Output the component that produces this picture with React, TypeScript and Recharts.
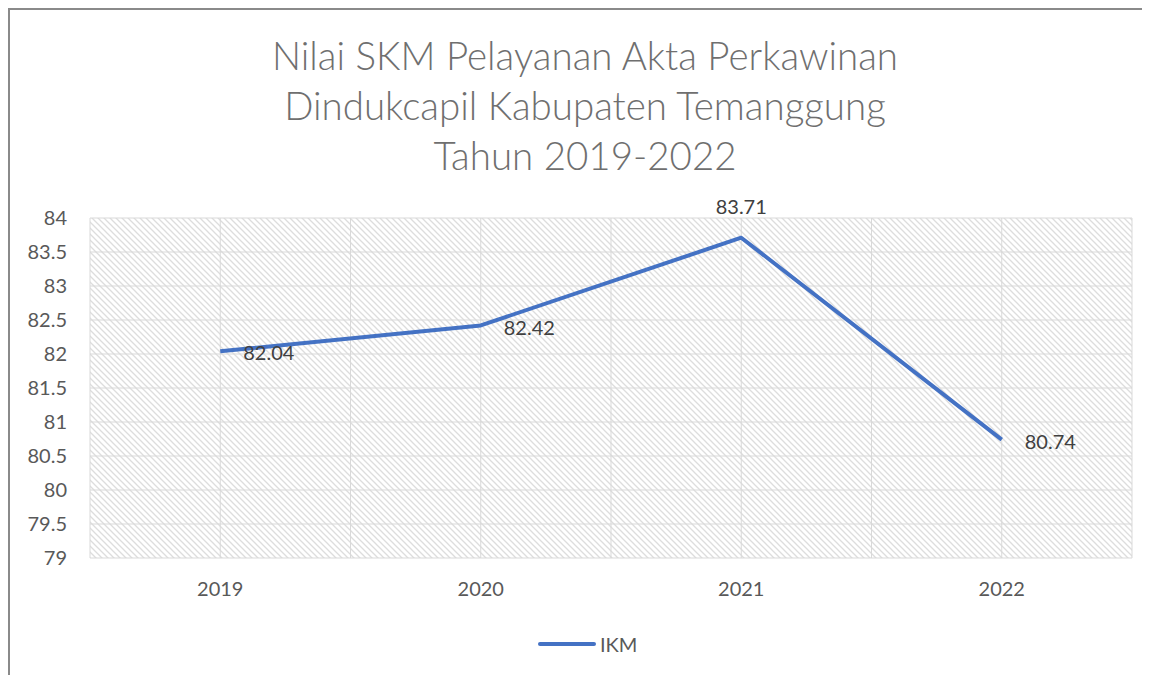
import React from 'react';
import { LineChart, Line, XAxis, YAxis, CartesianGrid, Legend, LabelList } from 'recharts';

const categories = ['2019', '2020', '2021', '2022'];
const ikmValues = [82.04, 82.42, 83.71, 80.74];
const yTicks = [79, 79.5, 80, 80.5, 81, 81.5, 82, 82.5, 83, 83.5, 84];
const seriesName = 'IKM';
const titleLines = [
  'Nilai SKM Pelayanan Akta Perkawinan',
  'Dindukcapil Kabupaten Temanggung',
  'Tahun 2019-2022',
];
const labelPlacement = ['right', 'right', 'top', 'right'];

const data = categories.map((year, i) => ({ year, IKM: ikmValues[i] }));

const FONT = 'Lato, "Open Sans", sans-serif';
const BLUE = '#4472C4';

const renderLabel = (props: any) => {
  const { x, y, value, index } = props;
  const place = labelPlacement[index];
  if (place === 'top') {
    return (
      <text x={x} y={y - 24} textAnchor="middle" fill="#404040" fontSize={20} fontFamily={FONT}>
        {value}
      </text>
    );
  }
  return (
    <text x={x + 23} y={y + 2} dy="0.355em" textAnchor="start" fill="#404040" fontSize={20} fontFamily={FONT}>
      {value}
    </text>
  );
};

const renderLegend = (props: any) => {
  const { payload } = props;
  return (
    <div style={{ display: 'flex', alignItems: 'center', fontFamily: FONT }}>
      {(payload || []).map((p: any) => (
        <div key={p.value} style={{ display: 'flex', alignItems: 'center' }}>
          <svg width={58} height={10} style={{ display: 'block' }}>
            <line x1={2} y1={5} x2={56} y2={5} stroke={p.color} strokeWidth={4} strokeLinecap="round" />
          </svg>
          <span style={{ fontSize: 20, color: '#595959', marginLeft: 4 }}>{p.value}</span>
        </div>
      ))}
    </div>
  );
};

export default function App() {
  return (
    <div
      style={{
        position: 'relative',
        width: 1142,
        height: 667,
        borderTop: '2px solid #8a8a8a',
        borderLeft: '2px solid #8a8a8a',
        boxSizing: 'border-box',
        background: '#fff',
      }}
    >
      <div
        style={{
          position: 'absolute',
          left: 0,
          top: 20,
          width: 1150,
          textAlign: 'center',
          fontFamily: FONT,
          fontWeight: 300,
          fontSize: 38.5,
          lineHeight: '50px',
          color: '#6f6f6f',
        }}
      >
        {titleLines.map((t) => (
          <div key={t}>{t}</div>
        ))}
      </div>
      <div style={{ position: 'absolute', left: 0, top: 0 }}>
        <LineChart width={1140} height={665} data={data} margin={{ top: 208, right: 18, bottom: 77, left: 0 }}>
          <defs>
            <pattern id="hatch" patternUnits="userSpaceOnUse" width={6} height={6}>
              <rect width={6} height={6} fill="#ffffff" />
              <path d="M-1,-1 L7,7 M-1,5 L1,7 M5,-1 L7,1" stroke="#dddddd" strokeWidth={1.3} />
            </pattern>
          </defs>
          <CartesianGrid
            stroke="#d9d9d9"
            strokeWidth={1}
            fill="url(#hatch)"
            fillOpacity={1}
            verticalCoordinatesGenerator={({ offset }: any) =>
              Array.from({ length: categories.length * 2 + 1 }, (_, i) => offset.left + (i * offset.width) / (categories.length * 2))
            }
          />
          <XAxis
            dataKey="year"
            scale="band"
            axisLine={false}
            tickLine={false}
            tickSize={0}
            tickMargin={24}
            height={40}
            tick={{ fill: '#595959', fontSize: 20, fontFamily: FONT }}
          />
          <YAxis
            domain={[79, 84]}
            ticks={yTicks}
            interval={0}
            axisLine={false}
            tickLine={false}
            tickSize={0}
            tickMargin={23}
            width={80}
            tick={{ fill: '#595959', fontSize: 20, fontFamily: FONT }}
          />
          <Legend
            verticalAlign="middle"
            layout="horizontal"
            content={renderLegend}
            wrapperStyle={{ top: 622, left: 528, width: 200 }}
          />
          <Line
            type="linear"
            dataKey="IKM"
            name={seriesName}
            stroke={BLUE}
            strokeWidth={4}
            strokeLinejoin="round"
            dot={false}
            activeDot={false}
            isAnimationActive={false}
          >
            <LabelList dataKey="IKM" content={renderLabel} />
          </Line>
        </LineChart>
      </div>
    </div>
  );
}
